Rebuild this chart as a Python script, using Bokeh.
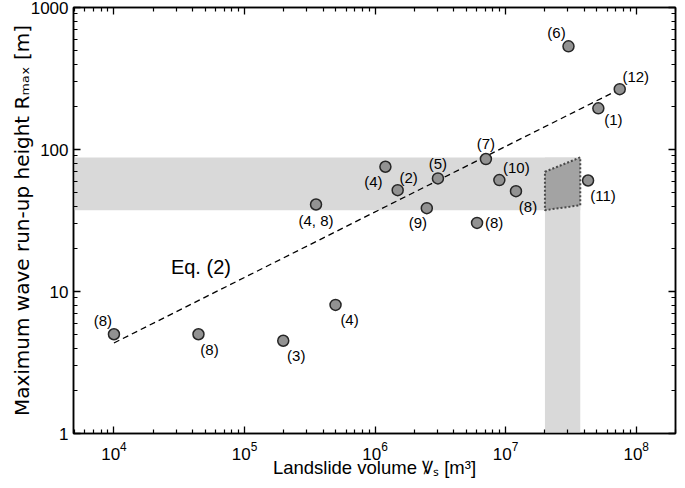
import math
from bokeh.plotting import figure
from bokeh.models import (ColumnDataSource, Range1d, FixedTicker, LogAxis, Label,
                          PrintfTickFormatter, CustomJSTickFormatter)
from bokeh.core.properties import value
from bokeh.embed import file_html
from bokeh.resources import INLINE

# ---------------- data ----------------
vol = [1.0e4, 4.44e4, 1.98e5, 4.98e5, 3.53e5, 1.2e6, 1.49e6, 3.03e6, 2.49e6,
       7.06e6, 8.95e6, 1.2e7, 6.04e6, 4.28e7, 3.03e7, 7.48e7, 5.13e7]
runup = [5.0, 5.0, 4.5, 8.05, 41.0, 75.6, 51.7, 62.6, 38.6,
         85.7, 60.9, 50.9, 30.4, 60.5, 533.0, 266.0, 195.0]
refs = ["(8)", "(8)", "(3)", "(4)", "(4, 8)", "(4)", "(2)", "(5)", "(9)",
        "(7)", "(10)", "(8)", "(8)", "(11)", "(6)", "(12)", "(1)"]

# Eq. (2) line end points
eq_vol = [1.0e4, 7.48e7]
eq_runup = [4.34, 266.0]
eq_text = "Eq. (2)"
eq_label_vol = 2.73e4
eq_label_runup = 14.9

# shaded ranges
band_runup = [37.4, 88.0]     # horizontal band (R_max range)
band_vol = [2.0e7, 3.73e7]    # vertical band (volume range)
poly_vol = [2.0e7, 3.73e7, 3.73e7, 2.0e7]
poly_runup = [69.7, 88.0, 40.5, 37.4]

x_lo, x_hi = 4.9e3, 2.0e8
y_lo, y_hi = 1.0, 1000.0
x_decades = [4, 5, 6, 7, 8]
y_decades = [0, 1, 2, 3]

x_title = "Landslide volume \uA75E\u209B [m\u00B3]"
y_title = "Maximum wave run-up height R\u2098\u2090\u2093 [m]"

# label offsets (screen px) for the reference numbers
label_dx = [-11, 11, 13, 14, 0, -12, 11, 0, -9, 0, 17, 12, 17, 15, -12, 16, 15]
label_dy = [-14, 15, 15, 15, 16, 15, -13, -15, 14, -16, -13, 15, 0, 15, -14, -13, 11]

FONT = "Liberation Sans"

# ---------------- figure geometry ----------------
W, H = 677, 480
FL, FR, FT, FB = 73, 675, 7, 433   # frame edges in canvas px
p = figure(width=W, height=H, x_axis_type="log", y_axis_type="log",
           x_range=Range1d(x_lo, x_hi), y_range=Range1d(y_lo, y_hi),
           output_backend="svg", toolbar_location=None,
           min_border_left=FL, min_border_right=W - FR, min_border_top=FT,
           min_border_bottom=H - FB)
p.grid.visible = False
p.outline_line_color = "black"
p.outline_line_width = 1.5
p.background_fill_color = "white"
p.border_fill_color = "white"

x_major = [10.0 ** k for k in x_decades]
x_minor = [m * 10.0 ** k for k in range(x_decades[0] - 1, x_decades[-1] + 1) for m in range(2, 10)]
y_major = [10.0 ** k for k in y_decades]
y_minor = [m * 10.0 ** k for k in y_decades[:-1] for m in range(2, 10)]


def style_axis(ax, major, minor, labels=True):
    ax.ticker = FixedTicker(ticks=major, minor_ticks=minor)
    ax.major_tick_in = 7
    ax.major_tick_out = 0
    ax.minor_tick_in = 4
    ax.minor_tick_out = 0
    ax.axis_line_width = 1.5
    ax.major_tick_line_width = 1.3
    ax.minor_tick_line_width = 1.2
    ax.axis_line_color = "black"
    ax.major_tick_line_color = "black"
    ax.minor_tick_line_color = "black"
    ax.major_label_text_font = FONT
    ax.major_label_text_font_size = "17px"
    ax.major_label_text_color = "black"
    if not labels:
        ax.formatter = CustomJSTickFormatter(code="return ''")
        ax.major_label_standoff = 0
        ax.major_label_text_font_size = "0px"
        ax.axis_label_standoff = 0


xa = p.xaxis[0]
style_axis(xa, x_major, x_minor)
xa.major_label_standoff = 8
xa.axis_label = x_title
xa.axis_label_text_font = FONT
xa.axis_label_text_font_size = "18.5px"
xa.axis_label_text_font_style = "normal"
xa.axis_label_text_color = "black"
xa.axis_label_standoff = -6

ya = p.yaxis[0]
style_axis(ya, y_major, y_minor)
ya.formatter = PrintfTickFormatter(format="%d")
ya.major_label_standoff = 5
ya.axis_label = y_title
ya.axis_label_text_font = "DejaVu Sans"
ya.axis_label_text_font_size = "20px"
ya.axis_label_text_font_style = "normal"
ya.axis_label_text_color = "black"
ya.axis_label_standoff = -6

top_ax = LogAxis()
style_axis(top_ax, x_major, x_minor, labels=False)
p.add_layout(top_ax, "above")
right_ax = LogAxis()
style_axis(right_ax, y_major, y_minor, labels=False)
p.add_layout(right_ax, "right")

# ---------------- shaded areas ----------------
GRAY = "#d9d9d9"
p.quad(left=[x_lo], right=[band_vol[1]], bottom=[band_runup[0]], top=[band_runup[1]],
       fill_color=GRAY, line_color=None)
p.quad(left=[band_vol[0]], right=[band_vol[1]], bottom=[y_lo], top=[band_runup[1]],
       fill_color=GRAY, line_color=None)
p.patch(poly_vol, poly_runup, fill_color="#a3a3a3", line_color="#4a4a4a",
        line_width=2, line_dash="2 2")

# ---------------- Eq. (2) ----------------
p.line(eq_vol, eq_runup, line_color="black", line_width=1.3, line_dash="6 4")
p.add_layout(Label(x=eq_label_vol, y=eq_label_runup, text=eq_text, text_font=FONT,
                   text_font_size="20px", text_baseline="middle", text_align="left",
                   text_color="black"))

# ---------------- points ----------------
src = ColumnDataSource(dict(vol=vol, runup=runup, ref=refs, dx=label_dx, dy=label_dy))
p.scatter("vol", "runup", source=src, size=11, fill_color="#929292",
          line_color="#262626", line_width=1.5)
p.text("vol", "runup", text="ref", source=src, x_offset="dx", y_offset="dy",
       text_align="center", text_baseline="middle", text_font=value(FONT),
       text_font_size=value("15px"), text_color="black")

open("out.html", "w").write(file_html(p, INLINE))
